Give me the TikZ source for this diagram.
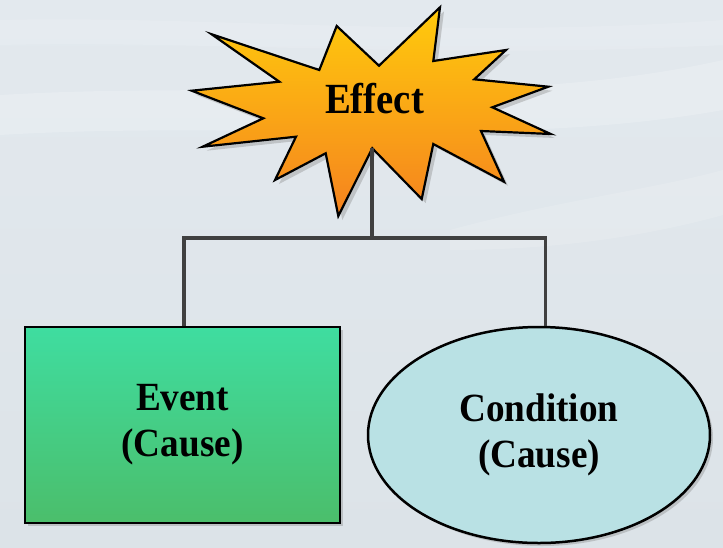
\documentclass[tikz,border=0pt]{standalone}
\usepackage{fontspec}
\newfontfamily\labelfont{Liberation Serif}
\usetikzlibrary{shapes.geometric,shadows,calc}

\definecolor{bgtop}{HTML}{E3E9EE}
\definecolor{bgbot}{HTML}{DCE3E8}
\definecolor{burstyel}{HTML}{FFCB0C}
\definecolor{burstorg}{HTML}{F5821F}
\definecolor{evtop}{HTML}{3FDDA0}
\definecolor{evbot}{HTML}{4BBE6B}
\definecolor{condfill}{HTML}{B9E1E4}
\definecolor{linkgray}{HTML}{404040}

\tikzset{
  boxtext/.style={font=\labelfont\bfseries\fontsize{40}{46}\selectfont, align=center, text=black},
  causebox/.style={draw=black, line width=2.5pt, top color=evtop, bottom color=evbot,
    minimum width=315pt, minimum height=196pt, inner sep=0pt,
    drop shadow={shadow xshift=3pt, shadow yshift=-3pt, opacity=.35}},
  causeoval/.style={ellipse, draw=black, line width=2.5pt, fill=condfill,
    minimum width=342pt, minimum height=216pt, inner sep=0pt,
    drop shadow={shadow xshift=3pt, shadow yshift=-3pt, opacity=.35}},
  link/.style={draw=linkgray, line width=3.8pt}
}
\newcommand{\narrow}[2][.93]{\scalebox{#1}[1]{#2}}

\begin{document}
\begin{tikzpicture}[x=1pt, y=-1pt]
  % canvas and soft background
  \useasboundingbox (0,0) rectangle (723,547);
  \shade[top color=bgtop, bottom color=bgbot] (0,0) rectangle (723,547);
  \fill[white, opacity=.18] (0,95) .. controls (250,80) and (500,110) .. (723,60)
     -- (723,110) .. controls (500,150) and (250,120) .. (0,135) -- cycle;
  \fill[white, opacity=.15] (450,230) .. controls (560,200) and (650,190) .. (723,170)
     -- (723,215) .. controls (650,235) and (560,250) .. (450,250) -- cycle;
  \fill[white, opacity=.12] (0,20) .. controls (200,15) and (450,40) .. (723,20)
     -- (723,45) .. controls (450,60) and (200,40) .. (0,45) -- cycle;

  % starburst
  \path[draw=black, line width=2.2pt, line join=miter,
        top color=burstyel, bottom color=burstorg,
        drop shadow={shadow xshift=4pt, shadow yshift=-4pt, opacity=.35}]
    (211.7,34.3) -- (319.3,70) -- (336.7,26) -- (379,65.7) -- (440,7.3)
    -- (433.3,61) -- (506,50) -- (474.3,79.3) -- (548.3,86.7) -- (492.3,107.3)
    -- (550.7,134) -- (481,131) -- (504,181.7) -- (433.3,144) -- (421.7,199)
    -- (372.3,148.3) -- (338.3,216) -- (325.7,153.3) -- (275,180) -- (296,136.7)
    -- (202.7,146.7) -- (263.3,118.3) -- (191.7,90.7) -- (279.3,81.7) -- cycle;
  \node[font=\labelfont\bfseries\fontsize{43}{46}\selectfont] (effect) at (374.5,99) {\narrow[.9]{Effect}};
  \coordinate (effbase) at (372.3,148.3);

  % cause nodes
  \node[causebox, boxtext] (event) at (182.5,425) {\narrow{Event}\\\narrow{(Cause)}};
  \node[causeoval, boxtext] (cond) at (539,435) {\narrow{Condition}\\\narrow{(Cause)}};

  % connectors
  \coordinate (bus) at (372.3,238);
  \draw[link] (effbase) -- (bus);
  \draw[link] ([xshift=1.5pt]event.north) |- (bus) -| ([xshift=6.5pt]cond.north);
\end{tikzpicture}
\end{document}
